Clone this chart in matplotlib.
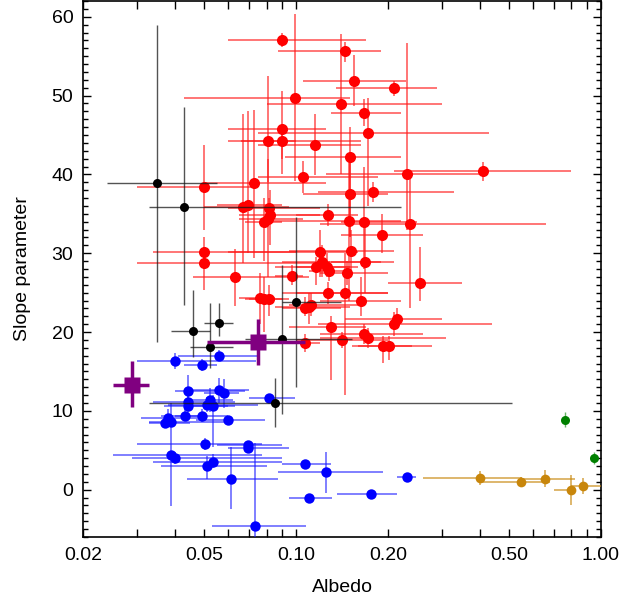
import numpy as np
import matplotlib
matplotlib.use("Agg")
import matplotlib.pyplot as plt
from matplotlib.ticker import FixedLocator, NullFormatter, MultipleLocator

plt.rcParams['font.family'] = ['Liberation Sans', 'DejaVu Sans']

# --- red group: albedo, bounds, slope parameter, bounds ---
red_alb = [0.090, 0.145, 0.155, 0.209, 0.099, 0.140, 0.167, 0.090, 0.172, 0.081,
           0.090, 0.115, 0.150, 0.105, 0.231, 0.409, 0.050, 0.073, 0.067, 0.0695,
           0.0815, 0.082, 0.081, 0.0785, 0.050, 0.050, 0.063, 0.076, 0.0785, 0.0815,
           0.150, 0.179, 0.127, 0.149, 0.167, 0.236, 0.191, 0.120, 0.151, 0.168,
           0.122, 0.116, 0.126, 0.128, 0.147, 0.097, 0.254, 0.127, 0.145, 0.163,
           0.107, 0.110, 0.112, 0.130, 0.141, 0.167, 0.172, 0.209, 0.214, 0.193,
           0.202, 0.107]
red_alb_lo = [0.060, 0.087, 0.105, 0.135, 0.043, 0.080, 0.130, 0.060, 0.075, 0.066,
              0.060, 0.075, 0.092, 0.075, 0.125, 0.210, 0.030, 0.050, 0.050, 0.055,
              0.060, 0.065, 0.065, 0.068, 0.034, 0.030, 0.046, 0.065, 0.068, 0.070,
              0.105, 0.118, 0.100, 0.080, 0.140, 0.120, 0.140, 0.060, 0.095, 0.130,
              0.090, 0.085, 0.100, 0.110, 0.120, 0.085, 0.200, 0.090, 0.100, 0.120,
              0.090, 0.085, 0.095, 0.095, 0.100, 0.120, 0.120, 0.118, 0.145, 0.152,
              0.160, 0.090]
red_alb_hi = [0.170, 0.190, 0.230, 0.290, 0.150, 0.300, 0.220, 0.125, 0.430, 0.100,
              0.163, 0.163, 0.220, 0.185, 0.400, 0.800, 0.075, 0.125, 0.095, 0.090,
              0.120, 0.120, 0.105, 0.090, 0.100, 0.120, 0.110, 0.085, 0.090, 0.095,
              0.200, 0.330, 0.160, 0.220, 0.250, 0.660, 0.260, 0.160, 0.210, 0.210,
              0.190, 0.150, 0.160, 0.150, 0.200, 0.105, 0.350, 0.200, 0.200, 0.220,
              0.140, 0.150, 0.160, 0.170, 0.200, 0.260, 0.310, 0.440, 0.300, 0.280,
              0.240, 0.120]
red_slope = [57.1, 55.6, 51.8, 50.9, 49.7, 48.9, 47.8, 45.7, 45.2, 44.2,
             44.2, 43.7, 42.2, 39.7, 40.0, 40.4, 38.4, 38.9, 35.9, 36.1,
             35.7, 34.8, 34.4, 33.9, 30.1, 28.7, 27.0, 24.3, 24.2, 24.2,
             37.5, 37.8, 34.9, 34.1, 33.9, 33.7, 32.3, 30.1, 30.3, 28.9,
             28.9, 28.2, 28.2, 27.7, 27.5, 27.1, 26.2, 24.9, 24.9, 23.9,
             23.0, 23.2, 23.4, 20.6, 19.0, 19.7, 19.2, 21.0, 21.6, 18.2,
             18.2, 18.6]
red_slope_lo = [56.2, 54.2, 48.7, 50.0, 39.2, 40.1, 46.1, 40.0, 36.0, 39.0,
                42.0, 39.9, 32.0, 37.7, 33.0, 39.2, 33.0, 29.4, 28.7, 30.0,
                34.0, 31.0, 27.0, 29.0, 28.0, 25.3, 23.3, 21.0, 20.0, 22.0,
                32.0, 36.5, 33.5, 24.0, 28.0, 23.0, 30.0, 27.0, 27.0, 25.0,
                27.0, 26.0, 27.0, 26.5, 26.0, 26.0, 24.0, 23.5, 12.0, 22.0,
                22.0, 21.0, 22.0, 13.9, 18.0, 18.5, 18.0, 19.5, 20.5, 16.1,
                16.5, 17.5]
red_slope_hi = [58.0, 56.8, 55.1, 51.8, 60.4, 57.8, 49.6, 50.6, 49.7, 52.5,
                46.0, 47.7, 46.0, 41.7, 56.7, 41.6, 43.7, 48.2, 47.7, 48.0,
                37.0, 38.0, 42.0, 37.0, 32.0, 30.0, 30.5, 27.5, 27.0, 26.0,
                42.2, 39.1, 36.3, 42.0, 41.0, 40.0, 35.0, 33.0, 33.0, 34.0,
                31.0, 29.5, 30.0, 29.0, 29.0, 28.5, 30.8, 26.3, 30.0, 27.0,
                24.5, 25.0, 25.0, 22.0, 20.0, 21.0, 20.5, 22.5, 23.0, 19.5,
                19.5, 19.7]

# --- blue group ---
blue_alb = [0.040, 0.049, 0.056, 0.0443, 0.056, 0.058, 0.0443, 0.0443, 0.0523, 0.0512,
            0.0533, 0.0431, 0.049, 0.038, 0.039, 0.0372, 0.060, 0.0815, 0.0502, 0.0695,
            0.0695, 0.039, 0.040, 0.0533, 0.0512, 0.0613, 0.0733, 0.107, 0.1254, 0.110,
            0.176, 0.231]
blue_alb_lo = [0.030, 0.043, 0.041, 0.040, 0.046, 0.050, 0.034, 0.037, 0.045, 0.038,
               0.046, 0.036, 0.040, 0.031, 0.033, 0.033, 0.047, 0.070, 0.030, 0.055,
               0.060, 0.025, 0.029, 0.034, 0.036, 0.044, 0.053, 0.090, 0.087, 0.095,
               0.136, 0.215]
blue_alb_hi = [0.074, 0.055, 0.075, 0.068, 0.070, 0.065, 0.063, 0.060, 0.062, 0.075,
               0.063, 0.050, 0.060, 0.048, 0.058, 0.045, 0.079, 0.099, 0.077, 0.090,
               0.095, 0.077, 0.090, 0.090, 0.080, 0.087, 0.108, 0.130, 0.193, 0.131,
               0.215, 0.248]
blue_slope = [16.3, 15.8, 17.0, 12.5, 12.7, 12.3, 11.1, 10.6, 11.4, 10.8,
              10.6, 9.4, 9.4, 9.1, 8.6, 8.4, 8.9, 11.6, 5.8, 5.7,
              5.3, 4.4, 4.0, 3.5, 3.0, 1.4, -4.6, 3.3, 2.2, -1.1,
              -0.5, 1.6]
blue_slope_lo = [15.3, 15.0, 16.3, 10.5, 11.0, 10.4, 10.1, 9.8, 9.9, 9.8,
                 5.4, 8.8, 8.6, 8.0, 8.1, 7.9, 8.4, 11.0, 5.0, 5.2,
                 4.8, -2.1, 3.2, 2.8, 1.3, -2.5, -6.0, 2.8, -0.4, -1.6,
                 -1.0, 1.2]
blue_slope_hi = [17.3, 16.6, 17.7, 14.6, 14.2, 14.0, 12.1, 11.4, 12.9, 11.8,
                 12.0, 10.2, 10.2, 10.2, 9.1, 8.9, 9.4, 12.2, 6.6, 6.2,
                 5.8, 11.0, 4.8, 4.5, 4.3, 5.4, 5.9, 3.8, 4.8, -0.6,
                 0.0, 2.0]

# --- black group ---
black_alb = [0.035, 0.043, 0.046, 0.056, 0.052, 0.100, 0.090, 0.085]
black_alb_lo = [0.024, 0.033, 0.039, 0.050, 0.045, 0.090, 0.068, 0.033]
black_alb_hi = [0.055, 0.220, 0.052, 0.062, 0.062, 0.140, 0.152, 0.510]
black_slope = [38.9, 35.9, 20.1, 21.1, 18.1, 23.8, 19.1, 11.0]
black_slope_lo = [18.7, 23.4, 16.8, 19.5, 15.5, 13.0, 9.6, 8.0]
black_slope_hi = [58.9, 48.5, 25.3, 23.7, 23.7, 34.6, 28.5, 14.2]

# --- orange group ---
orange_alb = [0.400, 0.547, 0.656, 0.800, 0.876]
orange_alb_lo = [0.260, 0.400, 0.550, 0.700, 0.800]
orange_alb_hi = [0.550, 0.680, 0.820, 0.820, 1.050]
orange_slope = [1.5, 1.0, 1.4, 0.0, 0.5]
orange_slope_lo = [0.6, 0.4, 0.3, -2.0, -0.5]
orange_slope_hi = [2.4, 1.6, 2.5, 1.9, 1.5]

# --- green group ---
green_alb = [0.764, 0.948]
green_alb_lo = [0.750, 0.930]
green_alb_hi = [0.780, 0.970]
green_slope = [8.9, 4.05]
green_slope_lo = [8.0, 3.3]
green_slope_hi = [9.8, 4.8]

# --- purple (group means) ---
purple_alb = [0.0289, 0.0749]
purple_alb_lo = [0.0251, 0.051]
purple_alb_hi = [0.033, 0.107]
purple_slope = [13.3, 18.7]
purple_slope_lo = [10.5, 15.8]
purple_slope_hi = [16.3, 21.6]


def err(val, lo, hi):
    val, lo, hi = np.asarray(val), np.asarray(lo), np.asarray(hi)
    return np.vstack([val - lo, hi - val])


fig = plt.figure(figsize=(6.29, 6.0), dpi=100)
ax = fig.add_axes([83 / 629, 63 / 600, 518 / 629, 536 / 600])

groups = [
    (red_alb, red_alb_lo, red_alb_hi, red_slope, red_slope_lo, red_slope_hi,
     "red", (1.0, 0.1, 0.1, 0.7), 8.0, "o", 1.2),
    (blue_alb, blue_alb_lo, blue_alb_hi, blue_slope, blue_slope_lo, blue_slope_hi,
     "blue", (0.1, 0.1, 1.0, 0.65), 7.5, "o", 1.2),
    (black_alb, black_alb_lo, black_alb_hi, black_slope, black_slope_lo, black_slope_hi,
     "black", (0.1, 0.1, 0.1, 0.75), 6.5, "o", 1.0),
    (orange_alb, orange_alb_lo, orange_alb_hi, orange_slope, orange_slope_lo, orange_slope_hi,
     "#c8860b", (0.78, 0.53, 0.05, 0.7), 7.0, "o", 1.2),
    (green_alb, green_alb_lo, green_alb_hi, green_slope, green_slope_lo, green_slope_hi,
     "green", (0.0, 0.5, 0.0, 0.6), 6.5, "o", 1.0),
    (purple_alb, purple_alb_lo, purple_alb_hi, purple_slope, purple_slope_lo, purple_slope_hi,
     "purple", "purple", 12.0, "s", 2.5),
]

for i, (x, xlo, xhi, y, ylo, yhi, col, ecol, ms, mk, elw) in enumerate(groups):
    ax.errorbar(x, y, xerr=err(x, xlo, xhi), yerr=err(y, ylo, yhi),
                fmt=mk, color=col, ecolor=ecol, elinewidth=elw, capsize=0,
                ms=ms, mec="none", zorder=2 + i)

ax.set_xscale("log")
ax.set_xlim(0.02, 1.0)
ax.set_ylim(-6, 62)

major_x = [0.02, 0.05, 0.10, 0.20, 0.50, 1.00]
minor_x = [0.03, 0.04, 0.06, 0.07, 0.08, 0.09, 0.3, 0.4, 0.6, 0.7, 0.8, 0.9]
ax.xaxis.set_major_locator(FixedLocator(major_x))
ax.set_xticklabels(["0.02", "0.05", "0.10", "0.20", "0.50", "1.00"])
ax.xaxis.set_minor_locator(FixedLocator(minor_x))
ax.xaxis.set_minor_formatter(NullFormatter())

ax.yaxis.set_major_locator(FixedLocator([0, 10, 20, 30, 40, 50, 60]))
ax.yaxis.set_minor_locator(MultipleLocator(1))

ax.tick_params(which="both", direction="in", top=True, right=True, width=1.0)
ax.tick_params(axis="x", which="both", length=6, labelsize=14, pad=7)
ax.tick_params(axis="y", which="major", length=6, labelsize=14, pad=7)
ax.tick_params(axis="y", which="minor", length=3.5)
for s in ax.spines.values():
    s.set_linewidth(1.2)

ax.set_xlabel("Albedo", fontsize=14, labelpad=11)
ax.set_ylabel("Slope parameter", fontsize=14, labelpad=15)

fig.savefig("out.png", dpi=100)
